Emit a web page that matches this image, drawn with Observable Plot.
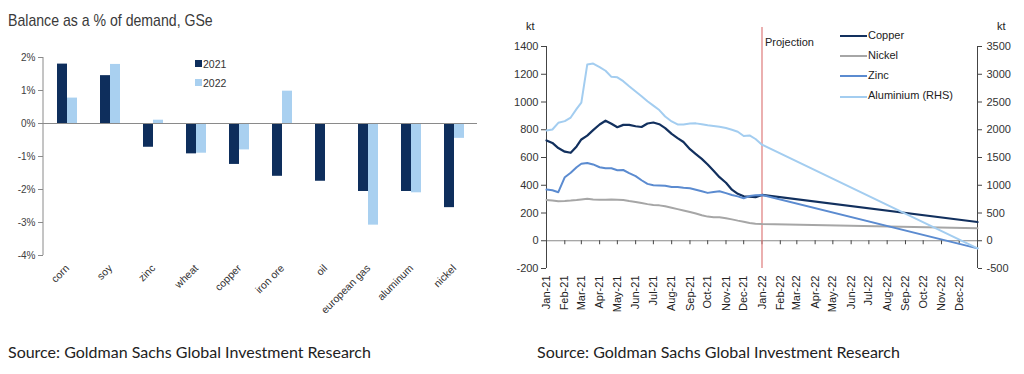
<!DOCTYPE html>
<html><head><meta charset="utf-8">
<script src="https://cdn.jsdelivr.net/npm/d3@7"></script>
<script src="https://cdn.jsdelivr.net/npm/@observablehq/plot@0.6"></script>
<style>
body{margin:0;background:#fff;}
#page{position:relative;width:1024px;height:374px;overflow:hidden;font-family:"Liberation Sans",Arial,sans-serif;color:#404040;}
.abs{position:absolute;white-space:nowrap;line-height:1;}
.plotbox{position:absolute;top:0;}
.plotbox svg{overflow:visible;}
</style></head><body><div id="page"></div>
<script>
// ---------- Left chart data ----------
const categories = ["corn","soy","zinc","wheat","copper","iron ore","oil","european gas","aluminum","nickel"];
const balance2021 = [1.8, 1.45, -0.72, -0.92, -1.24, -1.6, -1.75, -2.06, -2.06, -2.55];
const balance2022 = [0.77, 1.79, 0.1, -0.9, -0.8, 0.98, null, -3.08, -2.1, -0.45];
const pctTicks = [2, 1, 0, -1, -2, -3, -4];
const yearLabels = ["2021", "2022"];

// ---------- Right chart data ----------
const dates = ["2021-01-01","2021-01-11","2021-01-21","2021-02-01","2021-02-11","2021-02-21",
  "2021-03-01","2021-03-11","2021-03-21","2021-04-01","2021-04-11","2021-04-21",
  "2021-05-01","2021-05-11","2021-05-21","2021-06-01","2021-06-11","2021-06-21",
  "2021-07-01","2021-07-11","2021-07-21","2021-08-01","2021-08-11","2021-08-21",
  "2021-09-01","2021-09-11","2021-09-21","2021-10-01","2021-10-11","2021-10-21",
  "2021-11-01","2021-11-11","2021-11-21","2021-12-01","2021-12-11","2021-12-21",
  "2022-01-01","2023-01-01"];
const copper = [723,705,668,642,634,680,730,758,797,838,865,843,818,835,835,825,820,845,852,840,812,770,740,712,660,625,590,550,505,458,418,368,338,320,318,314,330,135];
const nickel = [294,290,285,287,290,294,298,302,298,296,296,297,296,293,286,280,272,264,258,255,248,238,228,218,207,196,184,174,170,169,162,154,145,137,128,123,120,90];
const zinc = [369,364,350,458,490,530,555,561,550,530,522,522,508,510,488,466,436,410,400,398,396,387,388,382,378,368,357,345,352,357,343,330,320,306,322,328,330,-55];
const aluminiumRHS = [1988,2005,2125,2155,2220,2375,2488,3175,3193,3130,3063,2953,2945,2875,2783,2688,2603,2513,2435,2355,2238,2150,2095,2095,2113,2115,2100,2080,2068,2055,2030,2000,1965,1888,1898,1833,1730,-138];
const leftTicks = [1400,1200,1000,800,600,400,200,0,-200];
const rightTicks = [3500,3000,2500,2000,1500,1000,500,0,-500];
const seriesNames = ["Copper","Nickel","Zinc","Aluminium (RHS)"];
const projectionStart = "2022-01-01";
const xDomain = ["2021-01-01","2023-01-01"];

// ---------- styling ----------
const C2021 = "#0e2e5c", C2022 = "#a9d0f0";
const seriesColors = ["#12305e","#a6a6a6","#5b8bd0","#a3cdf0"];
const axisGrey = "#8a8a8a";
const page = document.getElementById("page");
const parse = d3.utcParse("%Y-%m-%d");

function addText(txt, x, y, style) {
  const d = document.createElement("div");
  d.className = "abs"; d.textContent = txt;
  d.style.left = x + "px"; d.style.top = y + "px";
  Object.assign(d.style, style || {});
  page.appendChild(d); return d;
}

// ---------- Left chart ----------
const bars = yearLabels.flatMap((yr, k) =>
  categories.map((c, i) => ({category: c, year: yr, value: (k === 0 ? balance2021 : balance2022)[i]}))
).filter(d => d.value != null);

const leftAxisLine = (index, scales, values, dims) => {
  const l = document.createElementNS("http://www.w3.org/2000/svg", "line");
  l.setAttribute("x1", dims.marginLeft); l.setAttribute("x2", dims.marginLeft);
  l.setAttribute("y1", scales.y(pctTicks[0])); l.setAttribute("y2", scales.y(pctTicks[pctTicks.length - 1]));
  l.setAttribute("stroke", axisGrey);
  return l;
};

const leftPlot = Plot.plot({
  width: 500, height: 300,
  marginLeft: 43, marginRight: 23, marginTop: 57, marginBottom: 45,
  style: {fontFamily: "Liberation Sans, Arial, sans-serif", fontSize: "10px", color: "#404040", background: "transparent"},
  x: {domain: categories, paddingInner: 0.54, paddingOuter: 0.27, axis: null},
  y: {domain: [pctTicks[pctTicks.length - 1], pctTicks[0]], axis: null},
  marks: [
    Plot.barY(bars.filter(d => d.year === "2021"), {x: "category", y: "value", fill: C2021, insetRight: 10}),
    Plot.barY(bars.filter(d => d.year === "2022"), {x: "category", y: "value", fill: C2022, insetLeft: 10}),
    Plot.ruleY([0], {stroke: axisGrey}),
    leftAxisLine,
    Plot.axisY({ticks: pctTicks, tickFormat: d => d + "%", tickSize: 5, tickPadding: 3, fontSize: 10, stroke: axisGrey, fill: "#404040", label: null}),
    Plot.axisX({tickRotate: -45, tickSize: 0, tickPadding: 11, fontSize: 10.5, fill: "#333", label: null})
  ]
});
const lb = document.createElement("div"); lb.className = "plotbox"; lb.style.left = "0px";
lb.appendChild(leftPlot); page.appendChild(lb);

addText("Balance as a % of demand, GSe", 8, 12, {fontSize: "17px", color: "#3a3a3a", transform: "scaleX(0.83)", transformOrigin: "0 0"});
// bar legend
[[C2021, yearLabels[0], 60], [C2022, yearLabels[1], 79]].forEach(([c, t, y]) => {
  const s = document.createElement("div"); s.className = "abs";
  Object.assign(s.style, {left: "195px", top: y + "px", width: "7px", height: "7px", background: c});
  page.appendChild(s);
  addText(t, 203, y - 1, {fontSize: "10.5px", color: "#333"});
});

// ---------- Right chart ----------
const ratio = rightTicks[0] / leftTicks[0];
const valuesBySeries = [copper, nickel, zinc, aluminiumRHS.map(v => v / ratio)];
const lineData = seriesNames.map((name, s) => dates.map((d, i) => ({date: parse(d), value: valuesBySeries[s][i], series: name})));
const x0 = parse(xDomain[0]), x1 = parse(xDomain[1]);
const months = d3.utcMonth.range(x0, x1);
const rH = 322, rTop = 46, rBottom = 54;
const yMin = leftTicks[leftTicks.length - 1], yMax = leftTicks[0];
const zeroOffset = (rH - rTop - rBottom) * (0 - yMin) / (yMax - yMin);

const rightPlot = Plot.plot({
  width: 524, height: rH,
  marginLeft: 46, marginRight: 47, marginTop: rTop, marginBottom: rBottom,
  style: {fontFamily: "Liberation Sans, Arial, sans-serif", fontSize: "11px", color: "#404040", background: "transparent"},
  x: {type: "utc", domain: [x0, x1], axis: null},
  y: {domain: [yMin, yMax], axis: null},
  marks: [
    Plot.ruleY([0], {stroke: axisGrey}),
    Plot.ruleX([x0], {y1: yMin, y2: yMax, stroke: "#444"}),
    Plot.ruleX([x1], {y1: yMin, y2: yMax, stroke: "#444"}),
    Plot.axisX({ticks: months, tickSize: 4, tickFormat: () => "", stroke: "#444", dy: -zeroOffset, label: null}),
    Plot.axisX({ticks: months, tickFormat: d3.utcFormat("%b-%y"), tickRotate: -90, tickSize: 0, tickPadding: 7, fontSize: 11, fill: "#222", label: null}),
    Plot.axisY({ticks: leftTicks, tickFormat: d => String(d), tickSize: 5, tickPadding: 3, fontSize: 11, stroke: "#444", fill: "#333", label: null}),
    Plot.axisY({ticks: rightTicks.map(v => v / ratio), anchor: "right", tickFormat: d => String(Math.round(d * ratio)), tickSize: 4, tickPadding: 5, fontSize: 11, stroke: "#444", fill: "#333", label: null}),
    Plot.ruleX([parse(projectionStart)], {stroke: "#e08585", strokeWidth: 1.3, insetTop: -19}),
    Plot.text(["Projection"], {x: () => parse(projectionStart), frameAnchor: "top", textAnchor: "start", dx: 3, dy: -8, fontSize: 11, fill: "#222"}),
    ...lineData.map((data, s) => Plot.line(data, {x: "date", y: "value", stroke: seriesColors[s], strokeWidth: s === 0 ? 2.2 : 2}))
  ]
});
const rb = document.createElement("div"); rb.className = "plotbox"; rb.style.left = "500px";
rb.appendChild(rightPlot); page.appendChild(rb);

addText("kt", 526, 21, {fontSize: "11px", color: "#222"});
addText("kt", 997, 21, {fontSize: "11px", color: "#222"});
// line legend
seriesNames.forEach((name, s) => {
  const y = 36 + s * 20.2;
  const ln = document.createElement("div"); ln.className = "abs";
  Object.assign(ln.style, {left: "840px", top: (y - 1) + "px", width: "27px", height: "2px", background: seriesColors[s]});
  page.appendChild(ln);
  addText(name, 868, y - 6.5, {fontSize: "11px", color: "#222"});
});

// sources
const srcStyle = {fontFamily: "Lato, 'Open Sans', sans-serif", fontSize: "16px", color: "#222"};
addText("Source: Goldman Sachs Global Investment Research", 8, 344, srcStyle);
addText("Source: Goldman Sachs Global Investment Research", 537, 344, srcStyle);
</script></body></html>
